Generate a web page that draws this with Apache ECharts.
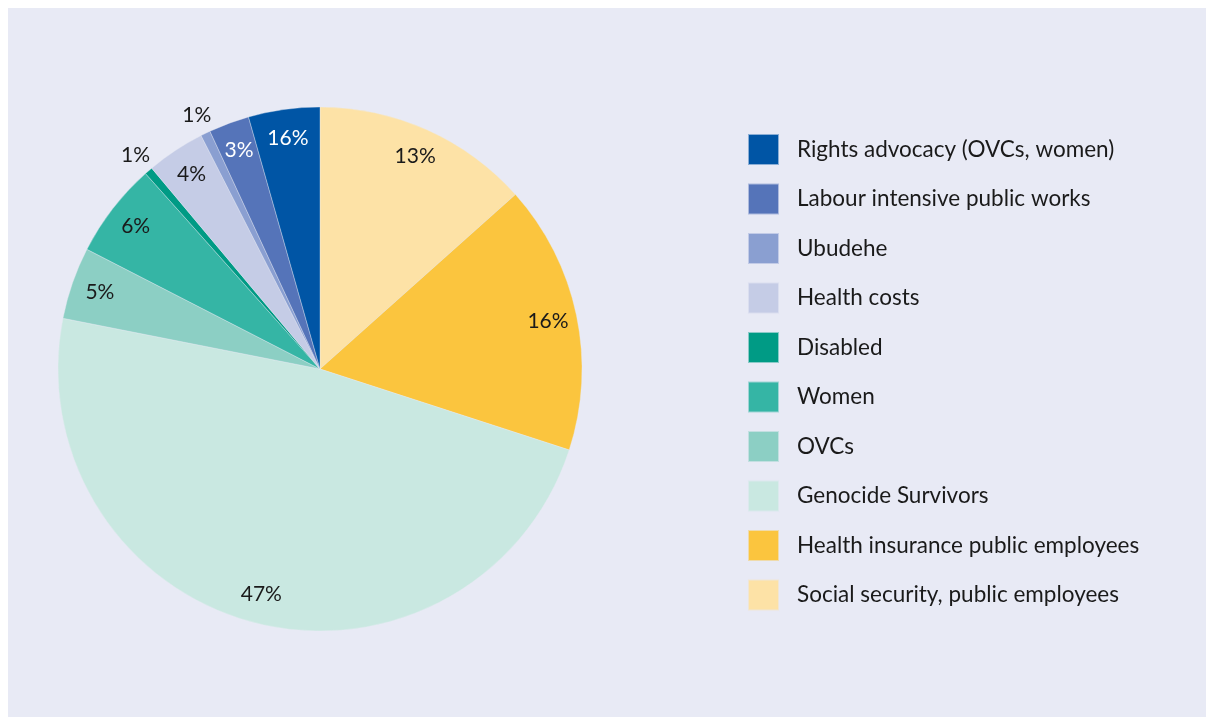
<!DOCTYPE html>
<html>
<head>
<meta charset="utf-8">
<script src="https://cdn.jsdelivr.net/npm/echarts@6/dist/echarts.min.js"></script>
<style>
  html, body { margin: 0; padding: 0; background: #ffffff; }
  #chart { position: absolute; left: 8px; top: 8px; width: 1198px; height: 709px; background: #e8eaf5; }
</style>
</head>
<body>
<div id="chart"></div>
<script>
// Data (clockwise from 12 o'clock)
const categories = [
  'Social security, public employees',
  'Health insurance public employees',
  'Genocide Survivors',
  'OVCs',
  'Women',
  'Disabled',
  'Health costs',
  'Ubudehe',
  'Labour intensive public works',
  'Rights advocacy (OVCs, women)'
];
const values = [13.4, 16.6, 48.1, 4.45, 5.85, 0.5, 3.6, 0.6, 2.5, 4.4];
const labels = ['13%', '16%', '47%', '5%', '6%', '1%', '4%', '1%', '3%', '16%'];
const colors = ['#fde2a6', '#fbc53e', '#c9e8e1', '#8ccfc4', '#35b5a5', '#009b85', '#c5cce6', '#8a9fd1', '#5574b9', '#0055a5'];
const outsideLabel = [false, false, false, false, false, true, false, true, false, false];
const whiteLabel = [false, false, false, false, false, false, false, false, true, true];
const legendOrder = [
  'Rights advocacy (OVCs, women)',
  'Labour intensive public works',
  'Ubudehe',
  'Health costs',
  'Disabled',
  'Women',
  'OVCs',
  'Genocide Survivors',
  'Health insurance public employees',
  'Social security, public employees'
];

const FONT = 'Lato';
const center = [312, 361];

const chart = echarts.init(document.getElementById('chart'), null, { renderer: 'canvas' });

const mainData = categories.map((c, i) => ({
  name: c, value: values[i], itemStyle: { color: colors[i] }
}));

function overlayData(showOutside) {
  return categories.map((c, i) => ({
    name: c,
    value: values[i],
    itemStyle: { color: 'rgba(0,0,0,0)' },
    label: {
      show: outsideLabel[i] === showOutside,
      color: whiteLabel[i] ? '#ffffff' : '#1a1a1a'
    }
  }));
}

const overlayCommon = {
  type: 'pie',
  center: center,
  startAngle: 90,
  clockwise: true,
  silent: true,
  avoidLabelOverlap: false,
  emphasis: { disabled: true },
  labelLine: { show: false },
  labelLayout: { hideOverlap: false },
  itemStyle: { borderWidth: 0 },
  label: {
    position: 'inside',
    fontFamily: FONT,
    fontSize: 21,
    formatter: p => labels[p.dataIndex]
  }
};

const option = {
  backgroundColor: '#e8eaf5',
  animation: false,
  legend: {
    orient: 'vertical',
    left: 739,
    top: 125,
    padding: 0,
    itemWidth: 31,
    itemHeight: 31,
    itemGap: 16.5,
    icon: 'rect',
    selectedMode: false,
    data: legendOrder.map(n => ({ name: n, itemStyle: { color: colors[categories.indexOf(n)] } })),
    textStyle: {
      fontFamily: FONT,
      fontSize: 22.5,
      color: '#1a1a1a',
      padding: [0, 0, 0, 13]
    }
  },
  series: [
    {
      type: 'pie',
      name: 'main',
      center: center,
      radius: [0, 262],
      startAngle: 90,
      clockwise: true,
      avoidLabelOverlap: false,
      emphasis: { disabled: true },
      label: { show: false },
      labelLine: { show: false },
      itemStyle: { borderColor: 'rgba(232,234,245,0.6)', borderWidth: 0.6 },
      data: mainData
    },
    Object.assign({}, overlayCommon, { name: 'inner', radius: [198, 262], data: overlayData(false) }),
    Object.assign({}, overlayCommon, { name: 'outer', radius: [262, 296], data: overlayData(true) })
  ]
};

chart.setOption(option);
</script>
</body>
</html>
